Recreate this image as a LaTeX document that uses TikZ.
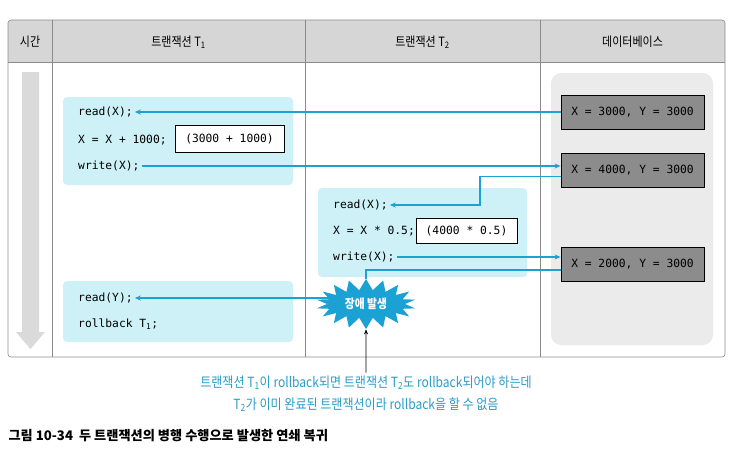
\documentclass[tikz,border=0pt]{standalone}
\usepackage{fontspec}
\setmainfont{Noto Sans CJK KR}[FakeStretch=0.86]
\newfontfamily\capfont{Noto Sans CJK KR}
\newfontfamily\codefont{DejaVu Sans Mono}
\usepackage{xcolor}
\usetikzlibrary{arrows.meta,positioning,calc,shapes.symbols}

\definecolor{flowblue}{HTML}{1BA1D3}
\definecolor{notecyan}{HTML}{2A9CC8}
\definecolor{txcyan}{HTML}{CDF1F6}
\definecolor{dbgray}{HTML}{8C8C8C}
\definecolor{dbarea}{HTML}{EBEBEB}
\definecolor{hdrgray}{HTML}{D6D6D6}
\definecolor{gridgray}{HTML}{8A8A8A}
\definecolor{timegray}{HTML}{DADADA}

\begin{document}
\begin{tikzpicture}[x=1pt,y=-1pt,
  flow/.style={draw=flowblue,line width=1.3pt,-{Stealth[length=6pt,width=5pt]}},
  flowline/.style={draw=flowblue,line width=1.3pt},
  txbox/.style={fill=txcyan,rounded corners=4pt,inner sep=0pt},
  code/.style={font=\codefont\fontsize{11.3}{13}\selectfont,anchor=west,inner sep=2pt},
  calcbox/.style={code,anchor=center,draw=black,fill=white,line width=0.6pt,minimum height=27pt},
  dbval/.style={code,anchor=center,draw=black,fill=dbgray,line width=0.7pt,minimum width=143pt,minimum height=34pt},
  hdr/.style={font=\fontsize{12.8}{14}\selectfont}]
  \useasboundingbox (0,0) rectangle (739,451);

  % table
  \fill[hdrgray,rounded corners=3pt] (8,20) rectangle (725,62);
  \fill[hdrgray] (8,40) rectangle (725,62);
  \draw[gridgray,line width=0.6pt,rounded corners=3pt] (8,20) rectangle (725,357);
  \draw[gridgray,line width=0.6pt] (8,62) -- (725,62);
  \foreach \x in {52,305,540} \draw[gridgray,line width=0.6pt] (\x,20) -- (\x,357);
  \foreach \x/\t/\n in {30/{시간}/hTime,
                        178.5/{트랜잭션 T\textsubscript{1}}/hTone,
                        422.5/{트랜잭션 T\textsubscript{2}}/hTtwo,
                        632.5/{데이터베이스}/hDb}
     \node[hdr] (\n) at (\x,42) {\t};

  % time axis and database area
  \fill[timegray] (22,72) -- (39,72) -- (39,332) -- (45,332) -- (30.5,349)
                  -- (16,332) -- (22,332) -- cycle;
  \fill[dbarea,rounded corners=10pt] (551,73) rectangle (713,345);

  % transaction T1
  \node[txbox,minimum width=230pt,minimum height=88pt] (tOneBox) at (178,141) {};
  \node[code] (tOneRead) at (76,112) {read(X);};
  \node[code] (tOneCalc) at (76,140) {X = X + 1000;};
  \node[calcbox,minimum width=109pt] (tOneVal) at (229.5,138.5) {(3000 + 1000)};
  \node[code] (tOneWrite) at (76,166) {write(X);};

  \node[txbox,minimum width=230pt,minimum height=61pt] (tOneBoxB) at (178,311.5) {};
  \node[code] (tOneReadY) at (76,298) {read(Y);};
  \node[code] (tOneRollback) at (76,324) {rollback T\textsubscript{1};};

  % transaction T2
  \node[txbox,minimum width=209pt,minimum height=89pt] (tTwoBox) at (422.5,232.5) {};
  \node[code] (tTwoRead) at (331,205) {read(X);};
  \node[code] (tTwoCalc) at (331,231) {X = X * 0.5;};
  \node[calcbox,minimum width=101pt,minimum height=25pt] (tTwoVal) at (466.5,230.5) {(4000 * 0.5)};
  \node[code] (tTwoWrite) at (331,257) {write(X);};

  % database
  \node[dbval] (dbOne) at (632.5,112) {X = 3000, Y = 3000};
  \node[dbval] (dbTwo) at (632.5,170.5) {X = 4000, Y = 3000};
  \node[dbval] (dbThree) at (632.5,264.5) {X = 2000, Y = 3000};

  \node[starburst,fill=flowblue,starburst points=18,starburst point height=11pt,
        random starburst=0,minimum width=100pt,minimum height=50pt,inner sep=0pt,
        text=white,font=\bfseries\fontsize{12.5}{14}\selectfont] (fail) at (366,304) {장애 발생};

  % data flow
  \draw[flow] (dbOne.west) -- (dbOne.west -| tOneRead.east);
  \draw[flow] (tOneWrite.east) -- (tOneWrite.east -| dbTwo.west);
  \draw[flow] ([yshift=-6pt]dbTwo.west) -| (480,205) -- (tTwoRead.east);
  \draw[flow] (tTwoWrite.east) -- (tTwoWrite.east -| dbThree.west);
  \draw[flowline] ([yshift=-5.5pt]dbThree.west) -| (fail.north);
  \draw[flow] ([xshift=8pt]fail.west |- tOneReadY.east) -- (tOneReadY.east);

  \node[text=notecyan,align=center,font=\fontsize{14}{22}\selectfont] (note) at (366,394)
    {트랜잭션 T\textsubscript{1}이 rollback되면 트랜잭션 T\textsubscript{2}도 rollback되어야 하는데\\
     T\textsubscript{2}가 이미 완료된 트랜잭션이라 rollback을 할 수 없음};
  \draw[line width=0.6pt,-{Stealth[length=5pt,width=4pt]}] (note.north) -- (fail.south);

  \node[anchor=west,font=\capfont\bfseries\fontsize{13.2}{15}\selectfont] (caption) at (5,436)
    {그림 10-34\hspace{6pt}두 트랜잭션의 병행 수행으로 발생한 연쇄 복귀};
\end{tikzpicture}
\end{document}
